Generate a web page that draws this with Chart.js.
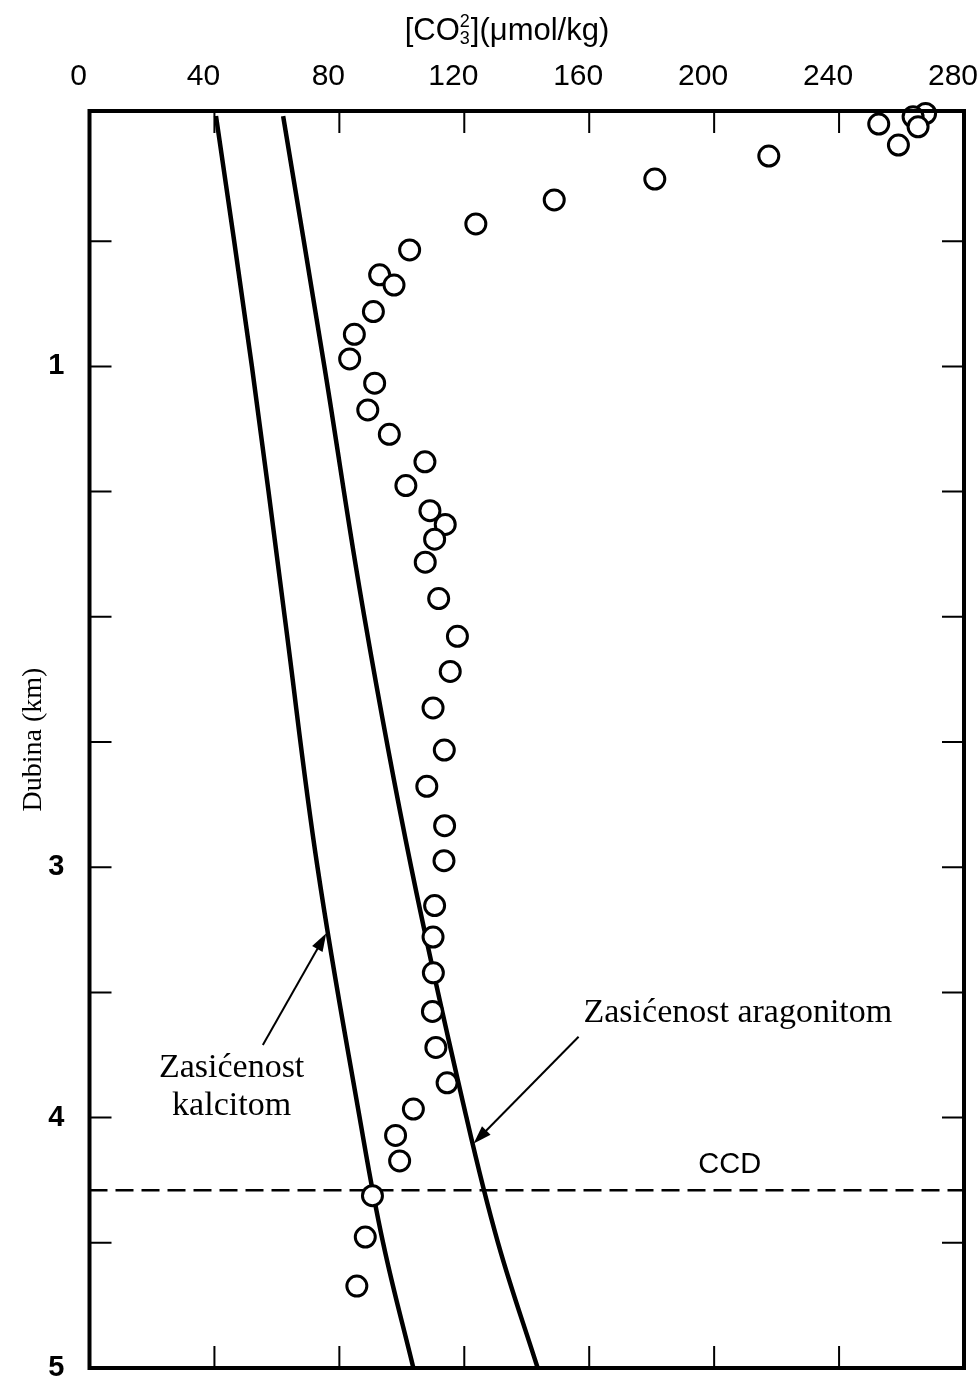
<!DOCTYPE html>
<html>
<head>
<meta charset="utf-8">
<script src="https://cdn.jsdelivr.net/npm/chart.js@4"></script>
<style>
  html, body { margin: 0; padding: 0; background: #fff; }
  #wrap { width: 980px; height: 1383px; }
</style>
</head>
<body>
<div id="wrap"><canvas id="chart" width="980" height="1383"></canvas></div>
<script>
// x axis (CO3 2-, umol/kg) and y axis (depth, km)
const xTicks = [0, 40, 80, 120, 160, 200, 240, 280];
const depthLabels = [1, 3, 4, 5];
const depthTicks = [0.5, 1, 1.5, 2, 2.5, 3, 3.5, 4, 4.5];

// measured carbonate ion profile
const co3 = [267.7, 263.7, 265.3, 252.7, 259.0, 217.5, 181.0, 148.8, 123.7,
  102.5, 92.9, 97.5, 90.9, 84.8, 83.3, 91.3, 89.1, 96.0, 107.4, 101.3,
  109.0, 113.9, 110.5, 107.5, 111.8, 117.8, 115.5, 110.0, 113.6, 108.0,
  113.7, 113.5, 110.5, 110.0, 110.1, 109.8, 110.9, 114.5, 103.7, 98.0,
  99.3, 90.6, 88.3, 85.6];
const depth = [-0.01, 0.003, 0.043, 0.032, 0.116, 0.160, 0.252, 0.335, 0.431,
  0.535, 0.634, 0.675, 0.781, 0.872, 0.970, 1.067, 1.174, 1.271, 1.381, 1.476,
  1.576, 1.631, 1.690, 1.782, 1.927, 2.078, 2.218, 2.364, 2.532, 2.677,
  2.834, 2.974, 3.153, 3.279, 3.422, 3.576, 3.720, 3.861, 3.966, 4.071,
  4.173, 4.312, 4.477, 4.673];

// saturation curves
const curveDepth = [0, 1, 2, 3, 4, 4.5, 5];
const calcite = [40.5, 52, 62.5, 73, 86.5, 94, 103.7];
const aragonite = [62, 75.2, 88, 103, 120.7, 130.8, 143.5];

// carbonate compensation depth
const ccdDepth = 4.29;

const serif = "'Liberation Serif', 'Times New Roman', serif";
const sans = "'Liberation Sans', Arial, sans-serif";
const narrow = "'Liberation Sans Narrow', 'Liberation Sans', Arial, sans-serif";

const notes = [
  {text: 'Zasićenost aragonitom', x: 207.6, y: 3.618, font: '34px ' + serif},
  {text: 'Zasićenost', x: 45.5, y: 3.838, font: '34px ' + serif},
  {text: 'kalcitom', x: 45.5, y: 3.99, font: '34px ' + serif},
  {text: 'CCD', x: 205, y: 4.221, font: '29px ' + sans}
];
const arrows = [
  {from: [55.5, 3.71], to: [75.8, 3.264]},
  {from: [156.6, 3.677], to: [123, 4.103]}
];

const pairs = (xs, ys) => xs.map((v, i) => ({x: v, y: ys[i]}));

const decor = {
  id: 'decor',
  afterDatasetsDraw(chart) {
    const {ctx, chartArea: a, scales: {x, y}} = chart;
    ctx.save();
    ctx.strokeStyle = '#000';
    ctx.lineWidth = 2;
    ctx.beginPath();
    xTicks.slice(1, -1).forEach(v => {
      const px = x.getPixelForValue(v);
      ctx.moveTo(px, a.top); ctx.lineTo(px, a.top + 22);
      ctx.moveTo(px, a.bottom); ctx.lineTo(px, a.bottom - 22);
    });
    depthTicks.forEach(v => {
      const py = y.getPixelForValue(v);
      ctx.moveTo(a.left, py); ctx.lineTo(a.left + 22, py);
      ctx.moveTo(a.right, py); ctx.lineTo(a.right - 22, py);
    });
    ctx.stroke();
    ctx.lineWidth = 4;
    ctx.strokeRect(a.left, a.top, a.right - a.left, a.bottom - a.top);

    // axis title with stacked 2 / 3
    ctx.fillStyle = '#000';
    ctx.textBaseline = 'alphabetic';
    const big = '31px ' + narrow, small = '18px ' + narrow;
    ctx.font = big;
    const w1 = ctx.measureText('[CO').width;
    const w3 = ctx.measureText('](μmol/kg)').width;
    ctx.font = small;
    const w2 = ctx.measureText('2').width + 1;
    let tx = 507 - (w1 + w2 + w3) / 2;
    const ty = 40;
    ctx.font = big; ctx.textAlign = 'left';
    ctx.fillText('[CO', tx, ty); tx += w1;
    ctx.font = small;
    ctx.fillText('2', tx, ty - 13);
    ctx.fillText('3', tx, ty + 4);
    tx += w2;
    ctx.font = big;
    ctx.fillText('](μmol/kg)', tx, ty);

    // labels and arrows
    ctx.textAlign = 'center';
    notes.forEach(n => {
      ctx.font = n.font;
      ctx.fillText(n.text, x.getPixelForValue(n.x), y.getPixelForValue(n.y));
    });
    ctx.lineWidth = 2;
    arrows.forEach(ar => {
      const x0 = x.getPixelForValue(ar.from[0]), y0 = y.getPixelForValue(ar.from[1]);
      const x1 = x.getPixelForValue(ar.to[0]), y1 = y.getPixelForValue(ar.to[1]);
      const ang = Math.atan2(y1 - y0, x1 - x0);
      ctx.beginPath();
      ctx.moveTo(x0, y0);
      ctx.lineTo(x1 - 10 * Math.cos(ang), y1 - 10 * Math.sin(ang));
      ctx.stroke();
      ctx.beginPath();
      ctx.moveTo(x1, y1);
      ctx.lineTo(x1 - 18 * Math.cos(ang) + 6 * Math.sin(ang), y1 - 18 * Math.sin(ang) - 6 * Math.cos(ang));
      ctx.lineTo(x1 - 18 * Math.cos(ang) - 6 * Math.sin(ang), y1 - 18 * Math.sin(ang) + 6 * Math.cos(ang));
      ctx.closePath();
      ctx.fill();
    });
    ctx.restore();
  }
};

new Chart(document.getElementById('chart'), {
  type: 'scatter',
  data: {
    datasets: [
      {
        data: pairs(co3, depth),
        pointRadius: 10,
        borderWidth: 3,
        pointBorderColor: '#000',
        pointBackgroundColor: '#fff',
        showLine: false,
        clip: false,
        order: 0
      },
      {
        data: pairs(calcite, curveDepth),
        showLine: true,
        pointRadius: 0,
        borderColor: '#000',
        borderWidth: 4.5,
        tension: 0.4,
        order: 2
      },
      {
        data: pairs(aragonite, curveDepth),
        showLine: true,
        pointRadius: 0,
        borderColor: '#000',
        borderWidth: 4.5,
        tension: 0.4,
        order: 2
      },
      {
        data: pairs([xTicks[0], xTicks[xTicks.length - 1]], [ccdDepth, ccdDepth]),
        showLine: true,
        pointRadius: 0,
        borderColor: '#000',
        borderWidth: 2.5,
        borderDash: [18, 8],
        order: 1
      }
    ]
  },
  options: {
    responsive: false,
    animation: false,
    devicePixelRatio: 1,
    layout: {padding: {left: 0, top: 0, right: 16, bottom: 15}},
    plugins: {legend: {display: false}, tooltip: {enabled: false}},
    scales: {
      x: {
        type: 'linear',
        position: 'top',
        min: 0,
        max: 280,
        afterFit(s) { s.height = 111; s.paddingLeft = 0; s.paddingRight = 0; },
        afterBuildTicks(s) { s.ticks = xTicks.map(v => ({value: v})); },
        grid: {display: false},
        border: {display: false},
        ticks: {
          padding: 8,
          labelOffset: -11,
          maxRotation: 0,
          autoSkip: false,
          color: '#000',
          font: {family: narrow, size: 30}
        }
      },
      y: {
        type: 'linear',
        reverse: true,
        min: -0.02,
        max: 5,
        afterFit(s) { s.width = 89.5; s.paddingTop = 0; s.paddingBottom = 0; },
        afterBuildTicks(s) { s.ticks = depthLabels.map(v => ({value: v})); },
        grid: {display: false},
        border: {display: false},
        ticks: {
          padding: 17,
          color: '#000',
          font: {family: sans, size: 29, weight: 'bold'}
        },
        title: {
          display: true,
          text: 'Dubina (km)',
          color: '#000',
          font: {family: serif, size: 28},
          padding: {top: 17, bottom: 0}
        }
      }
    }
  },
  plugins: [decor]
});
</script>
</body>
</html>
